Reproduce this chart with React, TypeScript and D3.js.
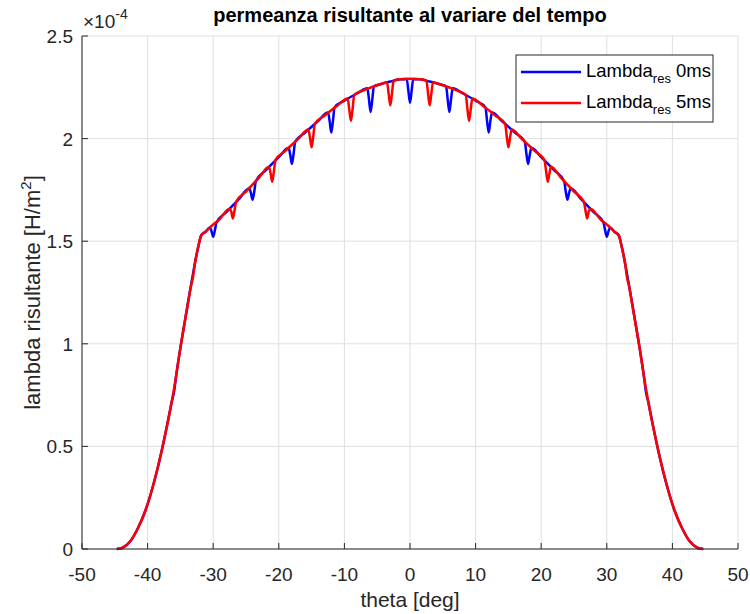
import React from "react";
import * as d3 from "d3";

// ---- data (values in units of 1e-4 H/m^2) ----
const xTicks = [-50, -40, -30, -20, -10, 0, 10, 20, 30, 40, 50];
const yTicks = [0, 0.5, 1, 1.5, 2, 2.5];
const yTickLabels = ["0", "0.5", "1", "1.5", "2", "2.5"];
const yExponent = -4;

const title = "permeanza risultante al variare del tempo";
const xLabel = "theta [deg]";

const lambda0ms: [number, number][] = [
  [-44.7, 0], [-43.8, 0.006], [-42.7, 0.035], [-41.5, 0.1], [-40.3, 0.19], [-38.9, 0.34],
  [-37.5, 0.53], [-36.8, 0.64], [-36.3, 0.72], [-36.0, 0.76], [-35.6, 0.855], [-34.9, 1.0],
  [-33.8, 1.21], [-33.0, 1.355], [-32.3, 1.47], [-31.8, 1.53], [-31.2, 1.545],
  [-30.5, 1.567], [-30.25, 1.548], [-30, 1.522], [-29.75, 1.552], [-29.5, 1.59],
  [-28, 1.642], [-26, 1.708],
  [-24.5, 1.758], [-24.25, 1.735], [-24, 1.702], [-23.75, 1.74], [-23.5, 1.792],
  [-22, 1.845], [-20, 1.91],
  [-18.5, 1.955], [-18.25, 1.92], [-18, 1.876], [-17.75, 1.925], [-17.5, 1.985],
  [-16, 2.029], [-14, 2.086],
  [-12.5, 2.127], [-12.25, 2.085], [-12, 2.03], [-11.75, 2.085], [-11.5, 2.152],
  [-10, 2.185], [-8, 2.221],
  [-6.5, 2.245], [-6.25, 2.19], [-6, 2.13], [-5.75, 2.19], [-5.5, 2.255],
  [-4.5, 2.265], [-3, 2.278], [-1.5, 2.289],
  [-0.5, 2.291], [-0.25, 2.233], [0, 2.175], [0.25, 2.233], [0.5, 2.291],
  [1.5, 2.289], [3, 2.278], [4.5, 2.265],
  [5.5, 2.255], [5.75, 2.19], [6, 2.13], [6.25, 2.19], [6.5, 2.245],
  [8, 2.221], [10, 2.185],
  [11.5, 2.152], [11.75, 2.085], [12, 2.03], [12.25, 2.085], [12.5, 2.127],
  [14, 2.086], [16, 2.029],
  [17.5, 1.985], [17.75, 1.925], [18, 1.876], [18.25, 1.92], [18.5, 1.955],
  [20, 1.91], [22, 1.845],
  [23.5, 1.792], [23.75, 1.74], [24, 1.702], [24.25, 1.735], [24.5, 1.758],
  [26, 1.708], [28, 1.642],
  [29.5, 1.59], [29.75, 1.552], [30, 1.522], [30.25, 1.548], [30.5, 1.567],
  [31.2, 1.545], [31.8, 1.53], [32.3, 1.47], [33.0, 1.355], [33.8, 1.21], [34.9, 1.0],
  [35.6, 0.855], [36.0, 0.76], [36.3, 0.72], [36.8, 0.64], [37.5, 0.53], [38.9, 0.34],
  [40.3, 0.19], [41.5, 0.1], [42.7, 0.035], [43.8, 0.006], [44.7, 0],
];

const lambda5ms: [number, number][] = [
  [-44.7, 0], [-43.8, 0.006], [-42.7, 0.035], [-41.5, 0.1], [-40.3, 0.19], [-38.9, 0.34],
  [-37.5, 0.53], [-36.0, 0.775], [-34.9, 1.0], [-33.8, 1.205], [-33.4, 1.28], [-33.1, 1.32],
  [-32.8, 1.39], [-32.3, 1.47], [-31.8, 1.53], [-31.2, 1.545], [-30.5, 1.567], [-29, 1.608],
  [-27.5, 1.658], [-27.25, 1.645], [-27, 1.611], [-26.75, 1.65], [-26.5, 1.692],
  [-25, 1.742], [-23, 1.81],
  [-21.5, 1.863], [-21.25, 1.83], [-21, 1.79], [-20.75, 1.84], [-20.5, 1.895],
  [-19, 1.94], [-17, 2.0],
  [-15.5, 2.044], [-15.25, 2.005], [-15, 1.958], [-14.75, 2.01], [-14.5, 2.072],
  [-13, 2.113], [-11, 2.163],
  [-9.5, 2.195], [-9.25, 2.14], [-9, 2.087], [-8.75, 2.145], [-8.5, 2.213],
  [-7, 2.236], [-5, 2.26],
  [-3.5, 2.274], [-3.25, 2.218], [-3, 2.162], [-2.75, 2.22], [-2.5, 2.282],
  [-1.5, 2.289], [0, 2.292], [1.5, 2.289],
  [2.5, 2.282], [2.75, 2.22], [3, 2.162], [3.25, 2.218], [3.5, 2.274],
  [5, 2.26], [7, 2.236],
  [8.5, 2.213], [8.75, 2.145], [9, 2.087], [9.25, 2.14], [9.5, 2.195],
  [11, 2.163], [13, 2.113],
  [14.5, 2.072], [14.75, 2.01], [15, 1.958], [15.25, 2.005], [15.5, 2.044],
  [17, 2.0], [19, 1.94],
  [20.5, 1.895], [20.75, 1.84], [21, 1.79], [21.25, 1.83], [21.5, 1.863],
  [23, 1.81], [25, 1.742],
  [26.5, 1.692], [26.75, 1.65], [27, 1.611], [27.25, 1.645], [27.5, 1.658],
  [29, 1.608], [30.5, 1.567], [31.2, 1.545], [31.8, 1.53], [32.3, 1.47], [32.8, 1.39],
  [33.1, 1.32], [33.4, 1.28], [33.8, 1.205], [34.9, 1.0], [36.0, 0.775], [37.5, 0.53],
  [38.9, 0.34], [40.3, 0.19], [41.5, 0.1], [42.7, 0.035], [43.8, 0.006], [44.7, 0],
];

const seriesNames = ["0ms", "5ms"];
const seriesColors = ["#0000ff", "#ff0000"];

// ---- layout ----
const W = 750;
const H = 614;
const M = { left: 82, right: 738, top: 36, bottom: 549 };
const FONT = "'Liberation Sans', Arial, Helvetica, sans-serif";
const INK = "#262626";
const GRID = "#dfdfdf";

export default function App() {
  const x = d3.scaleLinear().domain([-50, 50]).range([M.left, M.right]);
  const y = d3.scaleLinear().domain([0, 2.5]).range([M.bottom, M.top]);
  const line = d3
    .line<[number, number]>()
    .x((d) => x(d[0]))
    .y((d) => y(d[1]))
    .curve(d3.curveMonotoneX);
  const series = [lambda0ms, lambda5ms];
  const tickLen = 6;

  return (
    <svg
      width={W}
      height={H}
      style={{ position: "absolute", left: 0, top: 0, background: "#fff" }}
      fontFamily={FONT}
    >
      <rect x={0} y={0} width={W} height={H} fill="#fff" />
      {/* grid */}
      {xTicks.map((t) => (
        <line key={"gx" + t} x1={x(t)} x2={x(t)} y1={M.top} y2={M.bottom} stroke={GRID} strokeWidth={1} />
      ))}
      {yTicks.map((t) => (
        <line key={"gy" + t} x1={M.left} x2={M.right} y1={y(t)} y2={y(t)} stroke={GRID} strokeWidth={1} />
      ))}
      {/* series */}
      {series.map((s, i) => (
        <path key={"s" + i} d={line(s) || ""} fill="none" stroke={seriesColors[i]} strokeWidth={2.5} strokeLinejoin="round" />
      ))}
      {/* axes */}
      <line x1={M.left} x2={M.right} y1={M.bottom} y2={M.bottom} stroke={INK} strokeWidth={1} />
      <line x1={M.left} x2={M.left} y1={M.top} y2={M.bottom} stroke={INK} strokeWidth={1} />
      {xTicks.map((t) => (
        <g key={"tx" + t}>
          <line x1={x(t)} x2={x(t)} y1={M.bottom} y2={M.bottom - tickLen} stroke={INK} strokeWidth={1} />
          <text x={x(t)} y={581} textAnchor="middle" fontSize={19} fill={INK}>
            {t}
          </text>
        </g>
      ))}
      {yTicks.map((t, i) => (
        <g key={"ty" + t}>
          <line x1={M.left} x2={M.left + tickLen} y1={y(t)} y2={y(t)} stroke={INK} strokeWidth={1} />
          <text x={73} y={y(t) + 7} textAnchor="end" fontSize={19} fill={INK}>
            {yTickLabels[i]}
          </text>
        </g>
      ))}
      {/* exponent */}
      <text x={83} y={28} fontSize={19} fill={INK}>
        ×10
        <tspan dy={-9} fontSize={14}>{String(yExponent)}</tspan>
      </text>
      {/* title */}
      <text x={(M.left + M.right) / 2} y={22} textAnchor="middle" fontSize={20} fontWeight="bold" fill="#000">
        {title}
      </text>
      {/* x label */}
      <text x={(M.left + M.right) / 2} y={607} textAnchor="middle" fontSize={21} fill={INK}>
        {xLabel}
      </text>
      {/* y label */}
      <text
        transform={`translate(40,${(M.top + M.bottom) / 2}) rotate(-90)`}
        textAnchor="middle"
        fontSize={22}
        fill={INK}
      >
        lambda risultante [H/m
        <tspan dy={-9} fontSize={15}>2</tspan>
        <tspan dy={9}>]</tspan>
      </text>
      {/* legend */}
      <rect x={516} y={55} width={197} height={67} fill="#fff" stroke={INK} strokeWidth={1} />
      {seriesNames.map((n, i) => {
        const cy = 72 + i * 31;
        return (
          <g key={"lg" + i}>
            <line x1={521} x2={581} y1={cy} y2={cy} stroke={seriesColors[i]} strokeWidth={2.5} />
            <text x={586} y={cy + 5} fontSize={18.5} fill="#000">
              Lambda
              <tspan dy={6} fontSize={13}>res</tspan>
              <tspan dy={-6}>{" " + n}</tspan>
            </text>
          </g>
        );
      })}
    </svg>
  );
}
